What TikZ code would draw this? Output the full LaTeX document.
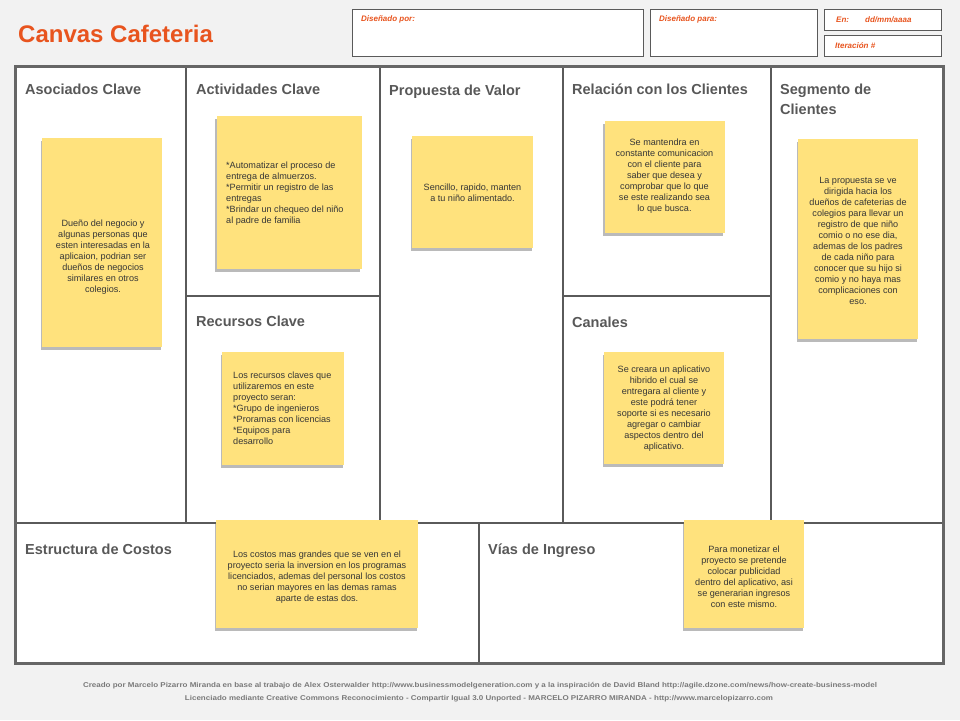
\documentclass[tikz,border=0pt]{standalone}
\usepackage{fontspec}
\setmainfont{Liberation Sans}
\usetikzlibrary{shadows}
\definecolor{bg}{HTML}{F2F2F2}
\definecolor{framec}{HTML}{666666}
\definecolor{linec}{HTML}{5A5A5A}
\definecolor{ttlc}{HTML}{585858}
\definecolor{orng}{HTML}{E8541E}
\definecolor{sticky}{HTML}{FFE27D}
\definecolor{notec}{HTML}{363636}
\definecolor{footc}{HTML}{7A7A7A}
\tikzset{
  celltitle/.style={anchor=base west, inner sep=0pt, text=ttlc, font=\fontsize{14.5}{17}\selectfont\bfseries},
  hdrbox/.style={draw=linec, line width=0.8pt, fill=white},
  hdrtxt/.style={anchor=base west, inner sep=0pt, text=orng, font=\fontsize{8}{9}\selectfont\bfseries\itshape},
  stickynote/.style={fill=sticky, draw=none, inner sep=0pt,
    drop shadow={shadow xshift=-1.5pt, shadow yshift=-2.5pt, opacity=0.45, fill=black!60}},
  notetxt/.style={inner sep=0pt, text=notec, font=\fontsize{9.1}{11}\selectfont},
  inner/.style={draw=linec, line width=1.4pt},
  foottxt/.style={inner sep=0pt, text=footc, font=\fontsize{7}{8}\selectfont\bfseries}
}
\begin{document}
\begin{tikzpicture}[x=1pt,y=-1pt]
\fill[bg] (0,0) rectangle (960,720);
\useasboundingbox (0,0) rectangle (960,720);

% title
\node[anchor=base west, inner sep=0pt, text=orng, font=\fontsize{24}{28}\selectfont\bfseries] (title) at (18,42) {Canvas Cafeteria};

% header boxes
\draw[hdrbox] (352,9) rectangle (643,56);
\draw[hdrbox] (650,9) rectangle (817,56);
\draw[hdrbox] (824,9) rectangle (941,30);
\draw[hdrbox] (824,35) rectangle (941,56);
\node[hdrtxt] (hp) at (361,21.5) {Diseñado por:};
\node[hdrtxt] (hq) at (659,21.5) {Diseñado para:};
\node[hdrtxt] (he) at (836,22.5) {En:};
\node[hdrtxt] (hd) at (865,22.5) {dd/mm/aaaa};
\node[hdrtxt] (hi) at (835,48.5) {Iteración \#};

% canvas
\fill[white] (15,66) rectangle (943,663);
\draw[inner] (186,66) -- (186,523);
\draw[inner] (380,66) -- (380,523);
\draw[inner] (563,66) -- (563,523);
\draw[inner] (771,66) -- (771,523);
\draw[inner] (186,296) -- (380,296);
\draw[inner] (563,296) -- (771,296);
\draw[inner] (15,523) -- (943,523);
\draw[inner] (479,523) -- (479,663);
\draw[draw=framec, line width=3pt] (15,66) rectangle (943,663);

% cell titles
\node[celltitle] (t1) at (25,94) {Asociados Clave};
\node[celltitle] (t2) at (196,94) {Actividades Clave};
\node[celltitle] (t3) at (389,95) {Propuesta de Valor};
\node[celltitle] (t4) at (572,94) {Relación con los Clientes};
\node[celltitle] (t5) at (780,94) {Segmento de};
\node[celltitle] (t5b) at (780,114) {Clientes};
\node[celltitle] (t6) at (196,326) {Recursos Clave};
\node[celltitle] (t7) at (572,327) {Canales};
\node[celltitle] (t8) at (25,554) {Estructura de Costos};
\node[celltitle] (t9) at (488,554) {Vías de Ingreso};

% sticky notes
\node[stickynote, minimum width=120pt, minimum height=209pt] (n1) at (102,242.5) {};
\node[notetxt, align=center] (x1) at (103,257) {Dueño del negocio y\\algunas personas que\\esten interesadas en la\\aplicaion, podrian ser\\dueños de negocios\\similares en otros\\colegios.};

\node[stickynote, minimum width=145pt, minimum height=153pt] (n2) at (289,192.5) {};
\node[notetxt, align=left, anchor=west] (x2) at (226,193.5) {*Automatizar el proceso de\\entrega de almuerzos.\\*Permitir un registro de las\\entregas\\*Brindar un chequeo del niño\\al padre de familia};

\node[stickynote, minimum width=122pt, minimum height=113pt] (n3) at (283,408.5) {};
\node[notetxt, align=left, anchor=west] (x3) at (233,408.5) {Los recursos claves que\\utilizaremos en este\\proyecto seran:\\*Grupo de ingenieros\\*Proramas con licencias\\*Equipos para\\desarrollo};

\node[stickynote, minimum width=121pt, minimum height=112pt] (n4) at (472.5,192) {};
\node[notetxt, align=center] (x4) at (472.5,193) {Sencillo, rapido, manten\\a tu niño alimentado.};

\node[stickynote, minimum width=120pt, minimum height=112pt] (n5) at (664.5,177) {};
\node[notetxt, align=center] (x5) at (664.5,176.5) {Se mantendra en\\constante comunicacion\\con el cliente para\\saber que desea y\\comprobar que lo que\\se este realizando sea\\lo que busca.};

\node[stickynote, minimum width=120pt, minimum height=200pt] (n6) at (858,239) {};
\node[notetxt, align=center] (x6) at (858,240.5) {La propuesta se ve\\dirigida hacia los\\dueños de cafeterias de\\colegios para llevar un\\registro de que niño\\comio o no ese dia,\\ademas de los padres\\de cada niño para\\conocer que su hijo si\\comio y no haya mas\\complicaciones con\\eso.};

\node[stickynote, minimum width=120pt, minimum height=112pt] (n7) at (664,408) {};
\node[notetxt, align=center] (x7) at (664,409) {Se creara un aplicativo\\hibrido el cual se\\entregara al cliente y\\este podrá tener\\soporte si es necesario\\agregar o cambiar\\aspectos dentro del\\aplicativo.};

\node[stickynote, minimum width=202pt, minimum height=108pt] (n8) at (317,574) {};
\node[notetxt, align=center] (x8) at (317,577) {Los costos mas grandes que se ven en el\\proyecto seria la inversion en los programas\\licenciados, ademas del personal los costos\\no serian mayores en las demas ramas\\aparte de estas dos.};

\node[stickynote, minimum width=120pt, minimum height=108pt] (n9) at (744,574) {};
\node[notetxt, align=center] (x9) at (744,577) {Para monetizar el\\proyecto se pretende\\colocar publicidad\\dentro del aplicativo, asi\\se generarian ingresos\\con este mismo.};

% footer
\node[foottxt] (f1) at (480,686) {\resizebox{794pt}{\height}{Creado por Marcelo Pizarro Miranda en base al trabajo de Alex Osterwalder http://www.businessmodelgeneration.com y a la inspiración de David Bland http://agile.dzone.com/news/how-create-business-model}};
\node[foottxt] (f2) at (479,699) {\resizebox{588pt}{\height}{Licenciado mediante Creative Commons Reconocimiento - Compartir Igual 3.0 Unported - MARCELO PIZARRO MIRANDA - http://www.marcelopizarro.com}};
\end{tikzpicture}
\end{document}
